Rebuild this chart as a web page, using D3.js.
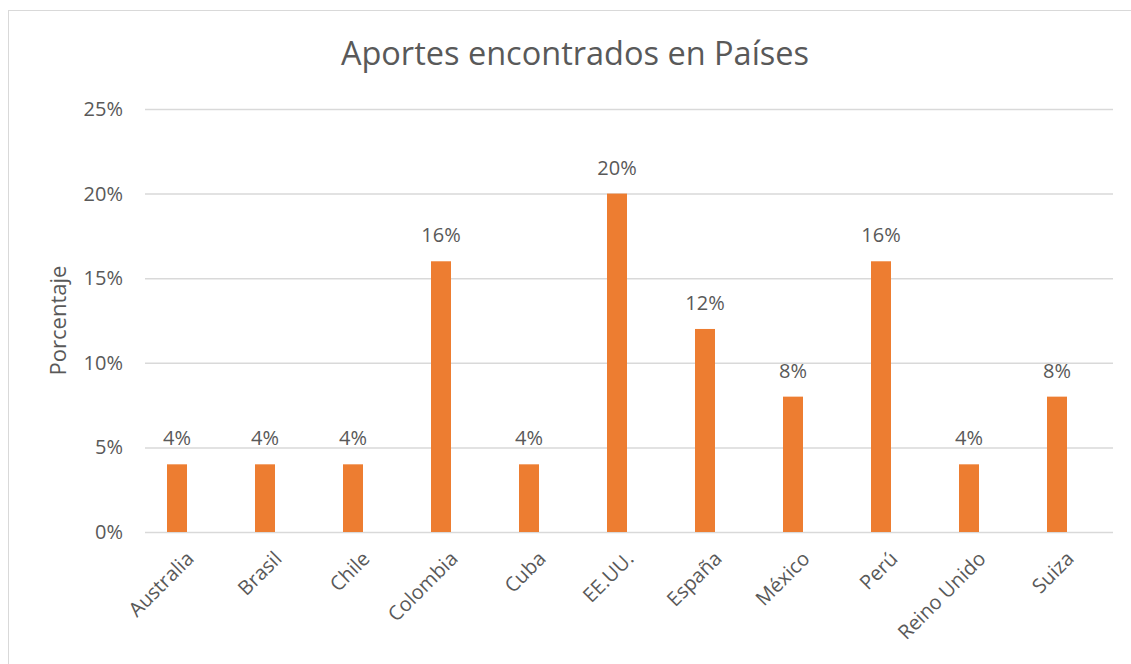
<!DOCTYPE html>
<html>
<head>
<meta charset="utf-8">
<script src="https://cdn.jsdelivr.net/npm/d3@7"></script>
<style>
  body { margin: 0; background: #fff; }
  svg text { font-family: "Open Sans", Lato, sans-serif; fill: #595959; }
</style>
</head>
<body>
<div id="chart"></div>
<script>
const categories = ["Australia", "Brasil", "Chile", "Colombia", "Cuba", "EE.UU.", "España", "México", "Perú", "Reino Unido", "Suiza"];
const values = [0.04, 0.04, 0.04, 0.16, 0.04, 0.20, 0.12, 0.08, 0.16, 0.04, 0.08];
const yTicks = [0, 0.05, 0.10, 0.15, 0.20, 0.25];
const title = "Aportes encontrados en Países";
const yTitle = "Porcentaje";

const W = 1131, H = 664;
const PLOT = { left: 145, right: 1113, top: 109, bottom: 532 };
const BAR_W = 20;
const ORANGE = "#ED7D31";
const FS = 20;

const svg = d3.select("#chart").append("svg").attr("width", W).attr("height", H);

// frame
svg.append("rect").attr("x", 8.5).attr("y", 10.5).attr("width", W + 20).attr("height", H + 20)
  .attr("fill", "none").attr("stroke", "#d9d9d9");

const y = d3.scaleLinear().domain([0, 0.25]).range([PLOT.bottom, PLOT.top]);
// bars sit slightly left of the gridline span in the original
const x = d3.scaleBand().domain(categories).range([PLOT.left - 12, PLOT.right - 12]);

// grid + y labels
const gy = svg.append("g").attr("transform", `translate(${PLOT.left},0)`)
  .call(d3.axisLeft(y).tickValues(yTicks).tickSize(-(PLOT.right - PLOT.left)).tickPadding(22)
    .tickFormat(d3.format(".0%")));
gy.select(".domain").remove();
gy.selectAll(".tick line").attr("stroke", "#d9d9d9").attr("stroke-width", 1.5);
gy.selectAll(".tick text").attr("font-size", FS).attr("fill", "#595959");

// bars
svg.selectAll(".bar").data(values).join("rect")
  .attr("class", "bar")
  .attr("x", (d, i) => x(categories[i]) + x.bandwidth() / 2 - BAR_W / 2)
  .attr("y", d => y(d))
  .attr("width", BAR_W)
  .attr("height", d => y(0) - y(d))
  .attr("fill", ORANGE);

// value labels
svg.selectAll(".val").data(values).join("text")
  .attr("class", "val")
  .attr("x", (d, i) => x(categories[i]) + x.bandwidth() / 2)
  .attr("y", d => y(d) - 19)
  .attr("text-anchor", "middle").attr("font-size", FS)
  .text(d => d3.format(".0%")(d));

// category labels
const gx = svg.append("g").attr("transform", `translate(0,${PLOT.bottom})`)
  .call(d3.axisBottom(x).tickSize(0));
gx.select(".domain").remove();
gx.selectAll(".tick text")
  .attr("font-size", FS).attr("fill", "#595959")
  .attr("text-anchor", "end")
  .attr("x", 0).attr("y", 0).attr("dy", 0)
  .attr("transform", "translate(18,28) rotate(-45)");

// titles
svg.append("text").attr("x", 575).attr("y", 65).attr("text-anchor", "middle")
  .attr("font-size", 32.5).text(title);
svg.append("text").attr("transform", `translate(66,${(PLOT.top + PLOT.bottom) / 2}) rotate(-90)`)
  .attr("text-anchor", "middle").attr("font-size", 22).text(yTitle);
</script>
</body>
</html>
